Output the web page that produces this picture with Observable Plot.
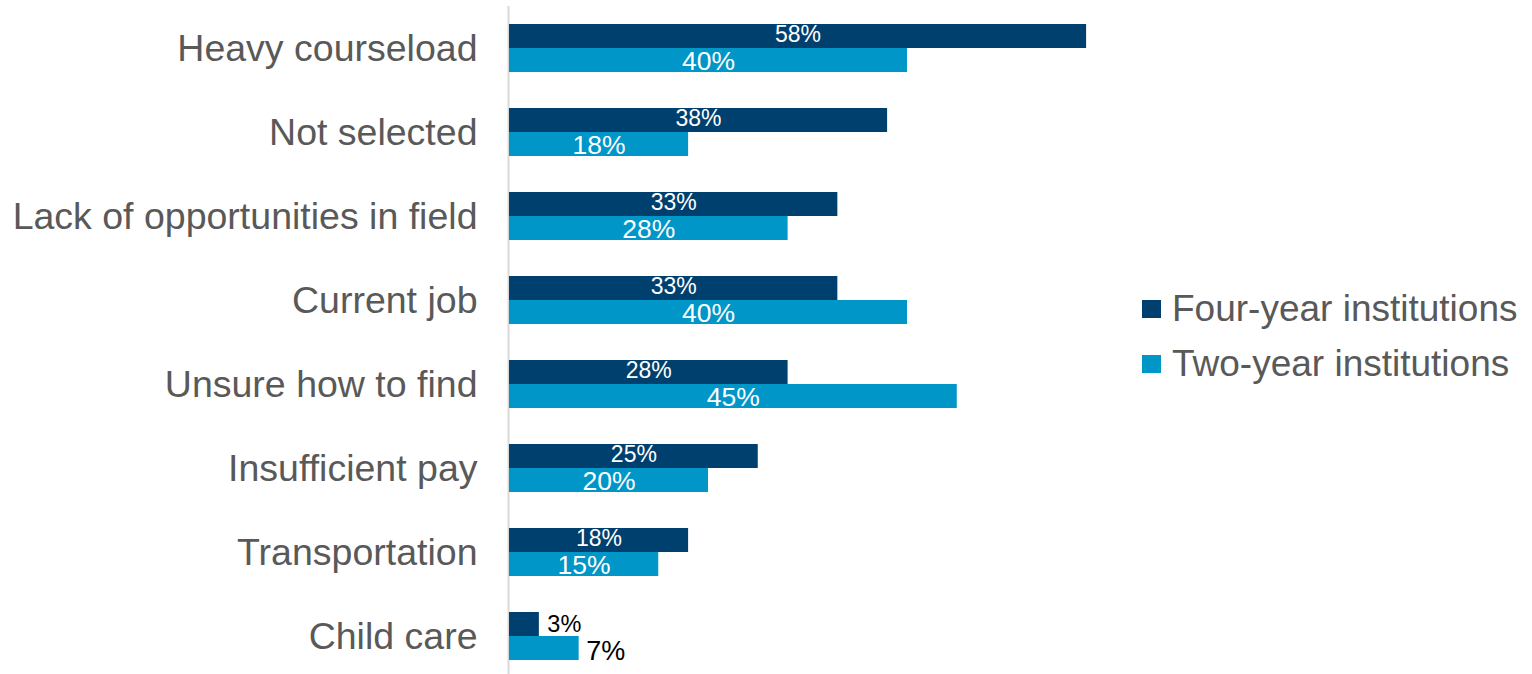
<!DOCTYPE html>
<html>
<head>
<meta charset="utf-8">
<script src="https://cdn.jsdelivr.net/npm/d3@7"></script>
<script src="https://cdn.jsdelivr.net/npm/@observablehq/plot@0.6"></script>
<style>
  html, body { margin: 0; padding: 0; background: #fff; }
  #wrap { position: relative; width: 1532px; height: 674px; font-family: "Liberation Sans", Arial, sans-serif; }
  #chart { position: absolute; left: 0; top: 0; }
  #legend { position: absolute; left: 1142px; top: 281px; color: #595959; font-size: 37px; line-height: 55px; }
  .item { display: flex; align-items: center; white-space: nowrap; }
  .sw { width: 19px; height: 18px; margin-right: 11px; display: inline-block; }
</style>
</head>
<body>
<div id="wrap"><div id="chart"></div><div id="legend"></div></div>
<script>
const categories = ["Heavy courseload", "Not selected", "Lack of opportunities in field", "Current job", "Unsure how to find", "Insufficient pay", "Transportation", "Child care"];
const seriesNames = ["Four-year institutions", "Two-year institutions"];
const fourYear = [58, 38, 33, 33, 28, 25, 18, 3];
const twoYear = [40, 18, 28, 40, 45, 20, 15, 7];
const colors = ["#00406e", "#0096c8"];

const data = [];
categories.forEach((c, i) => {
  data.push({category: c, series: seriesNames[0], value: fourYear[i]});
  data.push({category: c, series: seriesNames[1], value: twoYear[i]});
});
const inside = d => d.value >= 10;
const labelText = d => d.value + "%";

const chart = Plot.plot({
  width: 1110,
  height: 674,
  marginLeft: 509,
  marginRight: 4,
  marginTop: 6,
  marginBottom: -4,
  style: {fontFamily: "Liberation Sans, Arial, sans-serif", background: "transparent"},
  x: {domain: [0, 60], axis: null},
  y: {domain: seriesNames, paddingInner: 0, paddingOuter: 0.75, axis: null, round: false},
  fy: {domain: categories, padding: 0, round: false, label: null},
  color: {domain: seriesNames, range: colors},
  marks: [
    Plot.ruleX([0], {stroke: "#d9d9d9", strokeWidth: 2, dx: -1}),
    Plot.barX(data, {fy: "category", y: "series", x: "value", fill: "series"}),
    Plot.text(data.filter(d => d.series === seriesNames[0] && inside(d)), {fy: "category", y: "series", x: d => d.value / 2, text: labelText, fill: "white", fontSize: 23, dy: -2}),
    Plot.text(data.filter(d => d.series === seriesNames[1] && inside(d)), {fy: "category", y: "series", x: d => d.value / 2, text: labelText, fill: "white", fontSize: 26.5, dy: 1}),
    Plot.text(data.filter(d => d.series === seriesNames[0] && !inside(d)), {fy: "category", y: "series", x: "value", text: labelText, fill: "black", fontSize: 23.5, textAnchor: "start", dx: 8, dy: 0}),
    Plot.text(data.filter(d => d.series === seriesNames[1] && !inside(d)), {fy: "category", y: "series", x: "value", text: labelText, fill: "black", fontSize: 27, textAnchor: "start", dx: 7, dy: 3}),
    Plot.axisFy({anchor: "left", tickSize: 0, tickPadding: 32, fontSize: 37.5, fill: "#595959", label: null})
  ]
});
document.getElementById("chart").appendChild(chart);

const legend = document.getElementById("legend");
seriesNames.forEach((s, i) => {
  const item = document.createElement("div");
  item.className = "item";
  const sw = document.createElement("span");
  sw.className = "sw";
  sw.style.background = colors[i];
  item.appendChild(sw);
  item.appendChild(document.createTextNode(s));
  legend.appendChild(item);
});
</script>
</body>
</html>
